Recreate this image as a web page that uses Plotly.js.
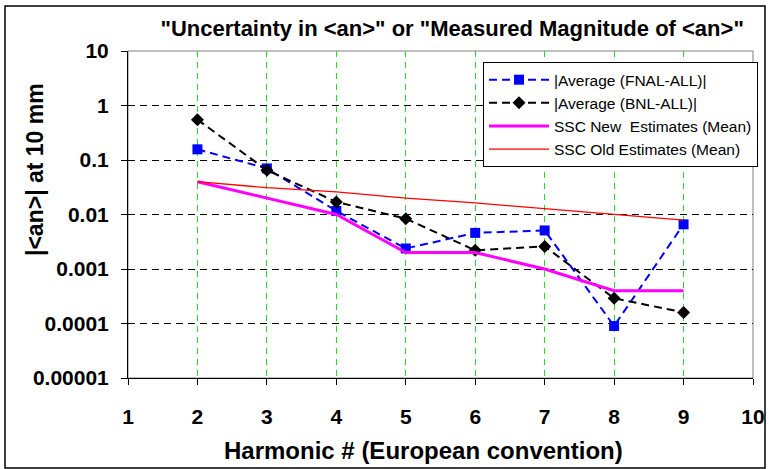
<!DOCTYPE html>
<html><head><meta charset="utf-8">
<script src="https://cdn.plot.ly/plotly-3.0.1.min.js"></script>
<style>html,body{margin:0;padding:0;background:#fff}#chart{width:769px;height:469px}</style>
</head><body><div id="chart"></div>
<script>
const harmonics = [2, 3, 4, 5, 6, 7, 8, 9];
const fnalAll = [0.157, 0.070, 0.0116, 0.00238, 0.0046, 0.0051, 0.00009, 0.0066];
const bnlAll = [0.55, 0.065, 0.017, 0.0084, 0.0022, 0.0026, 0.00029, 0.00016];
const sscNew = [0.04, 0.02, 0.01, 0.002, 0.002, 0.001, 0.0004, 0.0004];
const sscOld = [0.04, 0.031, 0.026, 0.020, 0.0163, 0.0129, 0.010, 0.0079];
const xTicks = [1, 2, 3, 4, 5, 6, 7, 8, 9, 10];
const yTicks = [0.00001, 0.0001, 0.001, 0.01, 0.1, 1, 10];
const yTickText = ['0.00001', '0.0001', '0.001', '0.01', '0.1', '1', '10'];

const F = 'Liberation Sans, Arial, sans-serif';
const traces = [
  {x: harmonics, y: fnalAll, name: '|Average (FNAL-ALL)|', mode: 'lines+markers',
   line: {color: '#0000ff', width: 2, dash: '8px,5px'}, marker: {symbol: 'square', size: 10, color: '#0000ff'}},
  {x: harmonics, y: bnlAll, name: '|Average (BNL-ALL)|', mode: 'lines+markers',
   line: {color: '#000000', width: 2, dash: '8px,5px'}, marker: {symbol: 'diamond', size: 10, color: '#000000'}},
  {x: harmonics, y: sscNew, name: 'SSC New  Estimates (Mean)', mode: 'lines',
   line: {color: '#ff00ff', width: 3}},
  {x: harmonics, y: sscOld, name: 'SSC Old Estimates (Mean)', mode: 'lines',
   line: {color: '#ff0000', width: 1.3}}
];
const layout = {
  width: 769, height: 469,
  margin: {l: 128, r: 16, t: 51, b: 91, autoexpand: false},
  paper_bgcolor: '#ffffff', plot_bgcolor: '#ffffff',
  font: {family: F, color: '#000'},
  title: {text: '"Uncertainty in &lt;an&gt;" or "Measured Magnitude of &lt;an&gt;"',
    font: {family: F, size: 22, weight: 'bold', color: '#000'},
    x: 0.588, xref: 'container', xanchor: 'center', y: 0.94, yref: 'container', yanchor: 'middle'},
  xaxis: {type: 'linear', range: [1, 10], tickvals: xTicks, ticktext: xTicks.map(String),
    showgrid: true, gridcolor: '#22dd22', griddash: '6px,5px', gridwidth: 1,
    showline: true, linecolor: '#000', linewidth: 1, ticks: 'outside', ticklen: 6, tickcolor: '#000',
    ticklabelstandoff: 14,
    tickfont: {family: F, size: 21, weight: 'bold'}, zeroline: false, fixedrange: true},
  yaxis: {type: 'log', range: [-5, 1], tickvals: yTicks, ticktext: yTickText,
    showgrid: true, gridcolor: '#000', griddash: '7px,5px', gridwidth: 1,
    showline: true, linecolor: '#000', linewidth: 1, ticks: 'outside', ticklen: 6, tickcolor: '#000',
    ticklabelstandoff: 8,
    tickfont: {family: F, size: 21, weight: 'bold'}, zeroline: false, fixedrange: true},
  showlegend: true,
  legend: {x: 0.568, y: 0.966, xanchor: 'left', yanchor: 'top', bgcolor: '#fff',
    bordercolor: '#000', borderwidth: 1, font: {family: F, size: 15.5}, itemwidth: 60,
    tracegroupgap: 0},
  annotations: [
    {text: '|&lt;an&gt;| at 10 mm', textangle: -90, xref: 'paper', yref: 'paper',
     x: (35 - 128) / 625, y: (378 - 170) / 327, showarrow: false, xanchor: 'center', yanchor: 'middle',
     font: {family: F, size: 23, weight: 'bold'}},
    {text: 'Harmonic # (European convention)', xref: 'paper', yref: 'paper',
     x: (423 - 128) / 625, y: (378 - 450) / 327, showarrow: false, xanchor: 'center', yanchor: 'middle',
     font: {family: F, size: 24, weight: 'bold'}}
  ],
  shapes: [
    {type: 'rect', xref: 'paper', yref: 'paper', x0: 0, x1: 1, y0: 0, y1: 1,
     line: {color: '#808080', width: 1}, layer: 'below'},
    {type: 'rect', xref: 'paper', yref: 'paper', x0: (5 - 128) / 625, x1: (765 - 128) / 625,
     y0: (378 - 468) / 327, y1: (378 - 6) / 327, line: {color: '#000', width: 1.5}}
  ]
};
Plotly.newPlot('chart', traces, layout, {displayModeBar: false, staticPlot: true});
</script></body></html>
